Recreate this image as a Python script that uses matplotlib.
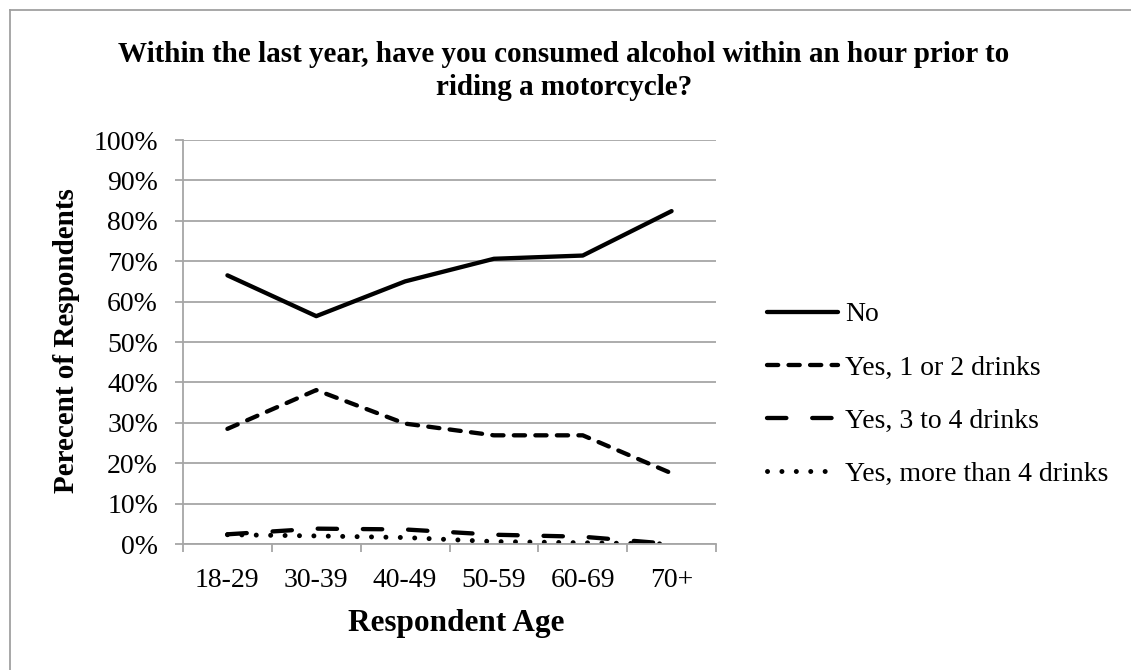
import matplotlib
matplotlib.use("Agg")
import matplotlib.pyplot as plt
from matplotlib.lines import Line2D
import numpy as np

categories = ["18-29", "30-39", "40-49", "50-59", "60-69", "70+"]
no_vals = [66.5, 56.4, 65.0, 70.6, 71.4, 82.4]
yes_1_2 = [28.5, 38.1, 29.8, 26.9, 26.9, 17.5]
yes_3_4 = [2.4, 3.8, 3.6, 2.3, 1.8, 0.0]
yes_more4 = [2.3, 2.0, 1.6, 0.6, 0.3, 0.0]
series_names = ["No", "Yes, 1 or 2 drinks", "Yes, 3 to 4 drinks", "Yes, more than 4 drinks"]
y_ticks = [0, 10, 20, 30, 40, 50, 60, 70, 80, 90, 100]
y_tick_labels = [f"{v}%" for v in y_ticks]

title = "Within the last year, have you consumed alcohol within an hour prior to\nriding a motorcycle?"
x_label = "Respondent Age"
y_label = "Perecent of Respondents"

plt.rcParams['font.family'] = ['Liberation Serif', 'DejaVu Serif']

W, H = 1131, 670
fig = plt.figure(figsize=(W / 100, H / 100), dpi=100)
fig.patch.set_facecolor("white")

ax = fig.add_axes([183 / W, 1 - 544 / H, (716 - 183) / W, (544 - 140) / H])

grid_c = "#a6a6a6"
x = np.arange(len(categories))
lw = 3.1
styles = [
    dict(linestyle="-", solid_capstyle="round"),
    dict(linestyle=(0, (2.6, 2.4)), dash_capstyle="round"),
    dict(linestyle=(0, (4.5, 6.0)), dash_capstyle="round"),
    dict(linestyle=(0, (0.01, 2.9)), dash_capstyle="round"),
]
widths = [lw, lw, lw, lw * 1.15]
all_vals = [no_vals, yes_1_2, yes_3_4, yes_more4]
for vals, name, st, w in zip(all_vals, series_names, styles, widths):
    ax.plot(x, vals, color="black", lw=w, label=name, solid_joinstyle="round", **st)

ax.set_xlim(-0.5, len(categories) - 0.5)
ax.set_ylim(0, 100)
ax.set_yticks(y_ticks)
ax.set_yticklabels(y_tick_labels, fontsize=20)
ax.yaxis.grid(True, color=grid_c, lw=1.3)
ax.set_axisbelow(True)

ax.set_xticks(np.arange(-0.5, len(categories), 1.0))
ax.set_xticklabels([])
ax.set_xticks(x, minor=True)
ax.set_xticklabels(categories, minor=True, fontsize=20)
ax.tick_params(axis="x", which="minor", length=0, pad=17)
ax.tick_params(axis="x", which="major", length=6, width=1.3, color=grid_c, direction="out")
ax.tick_params(axis="y", length=6, width=1.3, color=grid_c, direction="out", pad=12)

for s in ["top", "right"]:
    ax.spines[s].set_visible(False)
for s in ["left", "bottom"]:
    ax.spines[s].set_color(grid_c)
    ax.spines[s].set_linewidth(1.3)

fig.text(564 / W, 1 - 71 / H, title, ha="center", va="center", fontsize=21,
         fontweight="bold", linespacing=1.3, multialignment="center")
fig.text(67 / W, 1 - 341 / H, y_label, rotation=90, ha="center", va="center",
         fontsize=21, fontweight="bold")
fig.text(456 / W, 1 - 623 / H, x_label, ha="center", va="center",
         fontsize=22.5, fontweight="bold")

leg = fig.legend(loc="upper left", bbox_to_anchor=(767 / W, 1 - 302 / H),
                 bbox_transform=fig.transFigure, frameon=False, fontsize=20,
                 handlelength=2.55, handletextpad=0.25, labelspacing=1.0,
                 borderpad=0, borderaxespad=0)

fig.add_artist(Line2D([9.5 / W, 9.5 / W], [0, 1 - 9.5 / H], transform=fig.transFigure,
                      color="#a0a0a0", lw=1.3))
fig.add_artist(Line2D([9.5 / W, 1], [1 - 9.5 / H, 1 - 9.5 / H], transform=fig.transFigure,
                      color="#a0a0a0", lw=1.3))

fig.savefig("out.png", dpi=100, facecolor="white")
